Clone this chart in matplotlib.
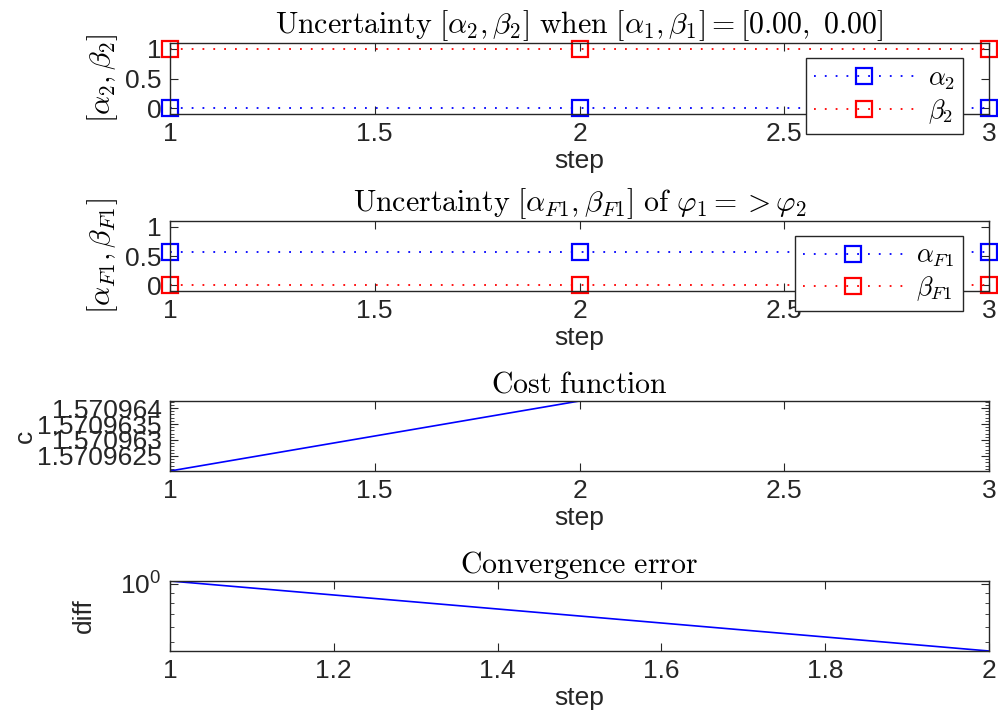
import numpy as np
import matplotlib
matplotlib.use('Agg')
import matplotlib.pyplot as plt
from matplotlib.ticker import FuncFormatter, MultipleLocator, AutoMinorLocator, NullFormatter, FixedLocator

# data
steps = [1, 2, 3]
alpha2 = [0.0, 0.0, 0.0]
beta2 = [1.0, 1.0, 1.0]
alphaF1 = [0.57, 0.57, 0.57]
betaF1 = [0.0, 0.0, 0.0]
cost = [1.57096203, 1.57096422, 1.57096422]
conv_steps = [1, 2]
conv_diff = [1.035, 0.45]

plt.rcParams['font.family'] = ['Liberation Sans', 'DejaVu Sans']
plt.rcParams['mathtext.fontset'] = 'cm'
plt.rcParams['axes.unicode_minus'] = False

dark = '0.15'
tick_fs = 19
title_fs = 21.5
leg_fs = 19
dots = (0, (1, 5))

fig = plt.figure(figsize=(9.98, 7.19), dpi=100)

W, H = 998.0, 719.0
def box(top, bottom):
    return [170 / W, 1 - bottom / H, 819 / W, (bottom - top) / H]

ax1 = fig.add_axes(box(43, 114))
ax2 = fig.add_axes(box(221, 291))
ax3 = fig.add_axes(box(401, 471))
ax4 = fig.add_axes(box(581, 651))


def style(ax):
    for s in ax.spines.values():
        s.set_color(dark)
        s.set_linewidth(1.0)
    ax.tick_params(which='both', direction='in', top=True, right=True,
                   colors=dark, labelsize=tick_fs, labelcolor=dark)
    ax.tick_params(which='major', length=6, pad=6)
    ax.tick_params(which='minor', length=3)
    ax.set_xlabel('step', fontsize=tick_fs, color=dark, labelpad=2)


def mtitle(ax, s):
    ax.set_title(s, fontsize=title_fs, pad=6)


def mlegend(ax, top):
    leg = ax.legend(loc='upper right', bbox_to_anchor=(0.968, top), fontsize=leg_fs,
                    frameon=True, fancybox=False, edgecolor=dark, framealpha=1,
                    handlelength=3.8, borderpad=0.3, labelspacing=0.2,
                    handletextpad=0.5, borderaxespad=0)
    leg.get_frame().set_linewidth(1.0)
    leg.set_zorder(10)
    return leg


# subplot 1
ax1.plot(steps, alpha2, ls=dots, marker='s', color='blue', mfc='none', ms=11, mew=1.6,
         lw=1.3, clip_on=False, label=r'$\alpha_2$')
ax1.plot(steps, beta2, ls=dots, marker='s', color='red', mfc='none', ms=11, mew=1.6,
         lw=1.3, clip_on=False, label=r'$\beta_2$')
ax1.set_xlim(1, 3)
ax1.set_ylim(-0.1, 1.1)
ax1.set_xticks([1, 1.5, 2, 2.5, 3])
ax1.set_xticklabels(['1', '1.5', '2', '2.5', '3'])
ax1.set_yticks([0, 0.5, 1])
ax1.set_yticklabels(['0', '0.5', '1'])
style(ax1)
ax1.set_ylabel(r'$[\alpha_2, \beta_2]$', fontsize=title_fs)
mtitle(ax1, r'$\mathrm{Uncertainty}\ [\alpha_2, \beta_2]\ \mathrm{when}\ [\alpha_1, \beta_1] = [0.00,\ 0.00]$')
mlegend(ax1, 0.784)

# subplot 2
ax2.plot(steps, alphaF1, ls=dots, marker='s', color='blue', mfc='none', ms=11, mew=1.6,
         lw=1.3, clip_on=False, label=r'$\alpha_{F1}$')
ax2.plot(steps, betaF1, ls=dots, marker='s', color='red', mfc='none', ms=11, mew=1.6,
         lw=1.3, clip_on=False, label=r'$\beta_{F1}$')
ax2.set_xlim(1, 3)
ax2.set_ylim(-0.1, 1.1)
ax2.set_xticks([1, 1.5, 2, 2.5, 3])
ax2.set_xticklabels(['1', '1.5', '2', '2.5', '3'])
ax2.set_yticks([0, 0.5, 1])
ax2.set_yticklabels(['0', '0.5', '1'])
style(ax2)
ax2.set_ylabel(r'$[\alpha_{F1}, \beta_{F1}]$', fontsize=title_fs)
mtitle(ax2, r'$\mathrm{Uncertainty}\ [\alpha_{F1}, \beta_{F1}]\ \mathrm{of}\ \varphi_1 => \varphi_2$')
mlegend(ax2, 0.786)

# subplot 3
ax3.plot(steps, cost, '-', color='blue', lw=1.2)
ax3.set_xlim(1, 3)
ax3.set_ylim(cost[0], cost[1])
ax3.set_xticks([1, 1.5, 2, 2.5, 3])
ax3.set_xticklabels(['1', '1.5', '2', '2.5', '3'])
ax3.yaxis.set_major_locator(MultipleLocator(5e-7))
ax3.yaxis.set_minor_locator(AutoMinorLocator(5))
ax3.yaxis.set_major_formatter(FuncFormatter(lambda v, p: ('%.7f' % v).rstrip('0')))
style(ax3)
ax3.tick_params(axis='x', which='minor', bottom=False, top=False)
ax3.set_ylabel('c', fontsize=tick_fs, color=dark, labelpad=0)
mtitle(ax3, r'$\mathrm{Cost\ function}$')

# subplot 4
ax4.plot(conv_steps, conv_diff, '-', color='blue', lw=1.2)
ax4.set_yscale('log')
ax4.set_xlim(1, 2)
ax4.set_ylim(conv_diff[1], conv_diff[0])
ax4.set_xticks([1, 1.2, 1.4, 1.6, 1.8, 2])
ax4.set_xticklabels(['1', '1.2', '1.4', '1.6', '1.8', '2'])
ax4.yaxis.set_major_locator(FixedLocator([1.0]))
ax4.yaxis.set_major_formatter(FuncFormatter(lambda v, p: r'$\mathdefault{10^{0}}$'))
ax4.yaxis.set_minor_formatter(NullFormatter())
style(ax4)
ax4.set_ylabel('diff', fontsize=tick_fs, color=dark, labelpad=18)
mtitle(ax4, r'$\mathrm{Convergence\ error}$')

fig.savefig('out.png', dpi=100)
